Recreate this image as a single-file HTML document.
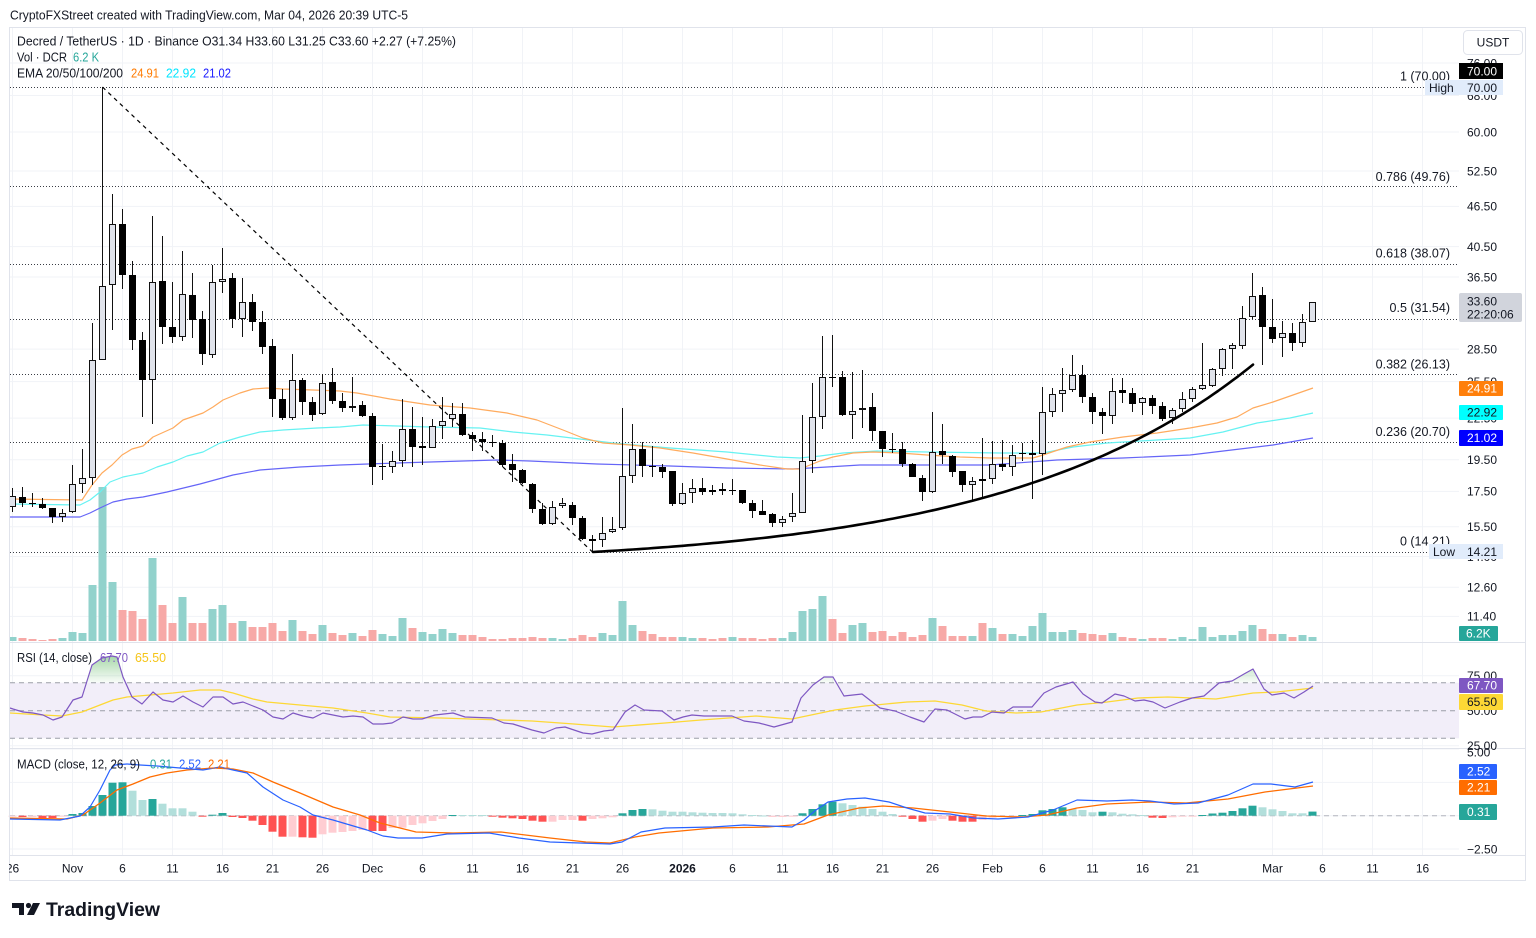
<!DOCTYPE html>
<html><head><meta charset="utf-8">
<style>
html,body{margin:0;padding:0;background:#fff;}
svg{display:block;font-family:"Liberation Sans",Arial,sans-serif;}
</style></head>
<body>
<svg id="s" width="1536" height="938" viewBox="0 0 1536 938" xmlns="http://www.w3.org/2000/svg">
<defs>
 <clipPath id="cp"><rect x="10" y="28" width="1449" height="614"/></clipPath>
 <clipPath id="crsi"><rect x="10" y="643" width="1449" height="39.7"/></clipPath>
 <clipPath id="ctime"><rect x="9" y="856" width="1517" height="24"/></clipPath>
 <linearGradient id="gg" gradientUnits="userSpaceOnUse" x1="0" y1="652" x2="0" y2="683"><stop offset="0" stop-color="#4caf50" stop-opacity="0.55"/><stop offset="1" stop-color="#4caf50" stop-opacity="0.03"/></linearGradient>
</defs>
<rect width="1536" height="938" fill="#fff"/>
<g id="grid"></g>
<!-- RSI band -->
<rect x="10" y="682.7" width="1449" height="55.6" fill="#f2eef9"/>
<g stroke="#9b9ea8" stroke-width="1" stroke-dasharray="5 4">
 <line x1="10" y1="682.7" x2="1459" y2="682.7"/>
 <line x1="10" y1="710.7" x2="1459" y2="710.7"/>
 <line x1="10" y1="738.3" x2="1459" y2="738.3"/>
 <line x1="10" y1="815.7" x2="1459" y2="815.7" stroke="#b2b5be"/>
</g>
<!-- Fib lines -->
<g stroke="#3a3d45" stroke-width="1" stroke-dasharray="1 2">
 <line x1="10" y1="87.5" x2="1459" y2="87.5"/>
 <line x1="10" y1="186.5" x2="1459" y2="186.5"/>
 <line x1="10" y1="264.5" x2="1459" y2="264.5"/>
 <line x1="10" y1="319.5" x2="1459" y2="319.5"/>
 <line x1="10" y1="374.5" x2="1459" y2="374.5"/>
 <line x1="10" y1="442.5" x2="1459" y2="442.5"/>
 <line x1="10" y1="552.5" x2="1459" y2="552.5"/>
</g>
<g id="vol" clip-path="url(#cp)"></g>
<g id="ema" clip-path="url(#cp)" fill="none"></g>
<line x1="102.5" y1="87" x2="592.5" y2="552" stroke="#000" stroke-width="1.2" stroke-dasharray="4 4"/>
<g id="cdl"></g>
<g id="curve"></g>
<g id="rsi" fill="none"></g>
<g id="hist"></g>
<g id="macd" fill="none"></g>

<!-- frame -->
<g stroke="#e0e3eb" stroke-width="1" fill="none">
 <rect x="9.5" y="27.5" width="1516" height="853"/>
 <line x1="9.5" y1="642.5" x2="1525.5" y2="642.5"/>
 <line x1="9.5" y1="748.5" x2="1525.5" y2="748.5"/>
 <line x1="9.5" y1="855.5" x2="1525.5" y2="855.5"/>
</g>

<!-- header & legends -->
<g fill="#131722">
 <text x="10" y="19.5" font-size="13" textLength="398" lengthAdjust="spacingAndGlyphs">CryptoFXStreet created with TradingView.com, Mar 04, 2026 20:39 UTC-5</text>
 <text x="17" y="45.5" font-size="13" textLength="439" lengthAdjust="spacingAndGlyphs">Decred / TetherUS · 1D · Binance  O31.34  H33.60  L31.25  C33.60  +2.27 (+7.25%)</text>
 <text x="17" y="61.3" font-size="13" textLength="50" lengthAdjust="spacingAndGlyphs">Vol · DCR</text>
 <text x="73" y="61.3" font-size="13" fill="#26a69a" textLength="26" lengthAdjust="spacingAndGlyphs">6.2 K</text>
 <text x="17" y="77.3" font-size="13" textLength="106" lengthAdjust="spacingAndGlyphs">EMA 20/50/100/200</text>
 <text x="131" y="77.3" font-size="13" fill="#ff7b00" textLength="28" lengthAdjust="spacingAndGlyphs">24.91</text>
 <text x="166" y="77.3" font-size="13" fill="#00e5ff" textLength="30" lengthAdjust="spacingAndGlyphs">22.92</text>
 <text x="203" y="77.3" font-size="13" fill="#1a1aff" textLength="28" lengthAdjust="spacingAndGlyphs">21.02</text>
 <text x="17" y="661.8" font-size="13" textLength="75" lengthAdjust="spacingAndGlyphs">RSI (14, close)</text>
 <text x="100" y="661.8" font-size="13" fill="#7e57c2" textLength="28" lengthAdjust="spacingAndGlyphs">67.70</text>
 <text x="135" y="661.8" font-size="13" fill="#f5c518" textLength="31" lengthAdjust="spacingAndGlyphs">65.50</text>
 <text x="17" y="768.5" font-size="13" textLength="123" lengthAdjust="spacingAndGlyphs">MACD (close, 12, 26, 9)</text>
 <text x="150" y="768.5" font-size="13" fill="#26a69a" textLength="22" lengthAdjust="spacingAndGlyphs">0.31</text>
 <text x="179" y="768.5" font-size="13" fill="#2962ff" textLength="22" lengthAdjust="spacingAndGlyphs">2.52</text>
 <text x="208" y="768.5" font-size="13" fill="#ff6d00" textLength="22" lengthAdjust="spacingAndGlyphs">2.21</text>
</g>

<!-- fib labels -->
<g fill="#131722" font-size="12.5" text-anchor="end">
 <text x="1450" y="80.5">1 (70.00)</text>
 <text x="1450" y="181">0.786 (49.76)</text>
 <text x="1450" y="257.5">0.618 (38.07)</text>
 <text x="1450" y="312">0.5 (31.54)</text>
 <text x="1450" y="368.5">0.382 (26.13)</text>
 <text x="1450" y="436">0.236 (20.70)</text>
 <text x="1450" y="545.5">0 (14.21)</text>
</g>

<!-- price axis -->
<g fill="#131722" font-size="12">
 <text x="1467" y="67.3">76.00</text>
 <text x="1467" y="99.8">68.00</text>
 <text x="1467" y="136.3">60.00</text>
 <text x="1467" y="175.3">52.50</text>
 <text x="1467" y="210.7">46.50</text>
 <text x="1467" y="250.9">40.50</text>
 <text x="1467" y="281.3">36.50</text>
 <text x="1467" y="353.4">28.50</text>
 <text x="1467" y="385.9">25.50</text>
 <text x="1467" y="422.4">22.50</text>
 <text x="1467" y="464.1">19.50</text>
 <text x="1467" y="495.7">17.50</text>
 <text x="1467" y="531.1">15.50</text>
 <text x="1467" y="560.8">14.00</text>
 <text x="1467" y="591.5">12.60</text>
 <text x="1467" y="620.7">11.40</text>
 <text x="1467" y="680">75.00</text>
 <text x="1467" y="715">50.00</text>
 <text x="1467" y="750">25.00</text>
 <text x="1467" y="756.3">5.00</text>
 <text x="1467" y="853.3">−2.50</text>
</g>
<rect x="1463.5" y="30.5" width="59" height="24" rx="4" fill="#fff" stroke="#e0e3eb"/>
<text x="1493" y="46.5" font-size="12" fill="#131722" text-anchor="middle">USDT</text>

<!-- boxes -->
<rect x="1459" y="63" width="44" height="16" fill="#000"/>
<text x="1467" y="75.3" font-size="12" fill="#fff">70.00</text>
<rect x="1425" y="80" width="78" height="15" fill="#e1ecfb"/>
<text x="1429" y="92" font-size="12" fill="#131722">High</text>
<text x="1467" y="92" font-size="12" fill="#131722">70.00</text>
<rect x="1459" y="293" width="63" height="29" rx="2" fill="#d1d4dc"/>
<text x="1467" y="305.5" font-size="12" fill="#131722">33.60</text>
<text x="1467" y="318.5" font-size="12" fill="#131722">22:20:06</text>
<rect x="1459" y="381" width="44" height="15" rx="1" fill="#ff7f0a"/>
<text x="1467" y="392.5" font-size="12" fill="#fff">24.91</text>
<rect x="1459" y="405" width="44" height="15" rx="1" fill="#00ffff"/>
<text x="1467" y="416.5" font-size="12" fill="#131722">22.92</text>
<rect x="1459" y="430" width="44" height="16" rx="1" fill="#0000ff"/>
<text x="1467" y="442" font-size="12" fill="#fff">21.02</text>
<rect x="1429" y="544" width="74" height="15" fill="#e1ecfb"/>
<text x="1433" y="556" font-size="12" fill="#131722">Low</text>
<text x="1467" y="556" font-size="12" fill="#131722">14.21</text>
<rect x="1459" y="626" width="39" height="15" rx="1" fill="#26a69a"/>
<text x="1466" y="637.5" font-size="12" fill="#fff">6.2K</text>
<rect x="1459" y="678" width="44" height="15" rx="1" fill="#7e57c2"/>
<text x="1467" y="689.5" font-size="12" fill="#fff">67.70</text>
<rect x="1459" y="694" width="44" height="16" rx="1" fill="#fdd835"/>
<text x="1467" y="706" font-size="12" fill="#131722">65.50</text>
<rect x="1459" y="764" width="38" height="15" rx="1" fill="#2962ff"/>
<text x="1467" y="775.5" font-size="12" fill="#fff">2.52</text>
<rect x="1459" y="780" width="38" height="15" rx="1" fill="#ff6d00"/>
<text x="1467" y="791.5" font-size="12" fill="#fff">2.21</text>
<rect x="1459" y="804" width="38" height="16" rx="1" fill="#26a69a"/>
<text x="1467" y="816" font-size="12" fill="#fff">0.31</text>

<!-- time axis -->
<g fill="#131722" font-size="12" text-anchor="middle" clip-path="url(#ctime)">
 <text x="12.5" y="872.5">26</text>
 <text x="72.5" y="872.5">Nov</text>
 <text x="122.5" y="872.5">6</text>
 <text x="172.5" y="872.5">11</text>
 <text x="222.5" y="872.5">16</text>
 <text x="272.5" y="872.5">21</text>
 <text x="322.5" y="872.5">26</text>
 <text x="372.5" y="872.5">Dec</text>
 <text x="422.5" y="872.5">6</text>
 <text x="472.5" y="872.5">11</text>
 <text x="522.5" y="872.5">16</text>
 <text x="572.5" y="872.5">21</text>
 <text x="622.5" y="872.5">26</text>
 <text x="682.5" y="872.5" font-weight="bold">2026</text>
 <text x="732.5" y="872.5">6</text>
 <text x="782.5" y="872.5">11</text>
 <text x="832.5" y="872.5">16</text>
 <text x="882.5" y="872.5">21</text>
 <text x="932.5" y="872.5">26</text>
 <text x="992.5" y="872.5">Feb</text>
 <text x="1042.5" y="872.5">6</text>
 <text x="1092.5" y="872.5">11</text>
 <text x="1142.5" y="872.5">16</text>
 <text x="1192.5" y="872.5">21</text>
 <text x="1272.5" y="872.5">Mar</text>
 <text x="1322.5" y="872.5">6</text>
 <text x="1372.5" y="872.5">11</text>
 <text x="1422.5" y="872.5">16</text>
</g>

<!-- logo -->
<path d="M12,903 H24 V915 H19 V908 H12 Z" fill="#131722"/>
<circle cx="28.5" cy="905.5" r="2.6" fill="#131722"/>
<polygon points="33,903 40,903 34,915 27,915" fill="#131722"/>
<text x="46" y="916" font-size="19" font-weight="bold" fill="#131722" textLength="114" lengthAdjust="spacingAndGlyphs">TradingView</text>
</svg>

<script>
(function(){
const NS="http://www.w3.org/2000/svg";
function el(g,tag,a){const e=document.createElementNS(NS,tag);for(const k in a)e.setAttribute(k,a[k]);document.getElementById(g).appendChild(e);return e;}
const X=i=>12.5+10*i;
function pts(a){return a.map(p=>p[0]+","+p[1]).join(" ");}

// grid
const gx=[0,6,11,16,21,26,31,36,41,46,51,56,61,67,72,77,82,87,92,98,103,108,113,118,126,131,136,141];
gx.forEach(i=>el("grid","line",{x1:X(i),y1:28,x2:X(i),y2:855,stroke:"#f1f3f7","stroke-width":1}));
[63,95.5,132,171,206.4,246.6,277,349.1,381.6,418.1,459.8,491.4,526.8,556.5,587.2,616.4,675.7,710.7,745.7,749,782.4,815.7,849].forEach(y=>{
 el("grid","line",{x1:10,y1:y,x2:1459,y2:y,stroke:"#f1f3f7","stroke-width":1});
});

const C=[
[496,507,488,512,1],[497,503,487,507,0],[503,504,493,507,0],[504,508,498,509,0],[508,517,508,523,0],[513,517,509,522,1],[484,512,465,513,1],[478,484,449,493,1],[360,478,323,485,1],[286,360,87,360,1],
[224,285,194,330,1],[224,275,209,289,0],[275,340,261,350,0],[340,380,332,417,0],[282,380,216,424,1],[281,327,236,344,0],[327,337,282,343,0],[294,337,251,341,1],[295,320,273,338,0],[319,354,311,365,0],
[282,355,265,358,1],[279,282,248,293,1],[278,319,273,328,0],[302,319,278,337,1],[302,322,294,331,0],[322,347,311,354,0],[346,399,339,417,0],[399,418,389,420,0],[380,418,354,420,1],[380,402,378,415,0],
[402,415,397,421,0],[383,414,374,415,1],[382,401,368,404,0],[401,408,393,412,0],[406,408,377,412,1],[405,416,401,417,0],[416,467,413,485,0],[466,467,444,480,0],[461,467,451,473,1],[429,461,399,467,1],
[429,447,407,467,0],[446,448,417,465,0],[426,448,419,448,1],[421,426,397,439,1],[414,419,403,427,1],[414,435,403,436,0],[435,439,432,451,0],[439,442,432,451,0],[442,443,435,447,0],[443,465,440,467,0],
[464,470,454,482,0],[470,483,469,484,0],[484,509,483,513,0],[509,524,503,525,0],[507,524,501,525,1],[503,506,498,508,1],[505,518,502,525,0],[518,539,516,540,0],[539,541,535,552,0],[533,540,517,547,1],
[529,532,517,533,1],[476,528,408,530,1],[449,476,424,483,1],[449,466,442,477,0],[466,467,446,477,0],[467,472,464,478,0],[471,504,471,506,0],[493,504,483,505,1],[488,493,479,503,1],[488,492,478,495,0],
[490,492,485,495,0],[489,491,483,495,0],[490,491,479,495,0],[490,503,490,504,0],[503,511,500,518,0],[511,515,500,515,0],[514,523,513,527,0],[519,523,516,527,1],[513,517,493,522,1],[461,513,415,513,1],
[417,461,383,473,1],[377,417,336,429,1],[377,378,335,387,0],[377,415,371,416,0],[411,415,372,439,1],[408,410,370,428,1],[407,431,393,441,0],[431,449,431,457,0],[449,450,433,453,0],[449,464,442,467,0],
[464,477,463,477,0],[478,492,475,501,0],[452,492,412,493,1],[451,455,424,464,0],[456,472,455,477,0],[471,485,471,492,0],[481,485,477,500,1],[479,481,438,498,0],[464,479,441,484,1],[464,467,440,471,0],
[455,467,445,476,1],[453,454,443,461,0],[453,455,440,499,0],[412,454,387,475,1],[394,412,388,417,1],[390,394,368,412,1],[375,390,355,392,1],[375,397,365,403,0],[397,412,393,424,0],[412,416,408,434,0],
[391,416,378,424,1],[390,393,378,403,0],[393,404,388,412,0],[398,403,397,415,1],[398,406,395,414,0],[406,419,402,421,0],[410,418,408,424,1],[399,409,392,412,1],[389,399,387,402,1],[385,389,343,390,1],
[369,386,368,387,1],[349,369,348,376,1],[345,349,343,369,1],[318,346,306,349,1],[296,317,273,319,1],[295,327,287,365,0],[327,339,299,343,0],[333,338,321,357,1],[333,343,323,351,0],[322,343,314,347,1],
[302,322,302,322,1]];

const V=[637,638,639,640,639,638,632,633,585,487,
582,610,611,619,558,605,623,597,623,623,
609,605,623,621,627,627,623,631,620,631,
634,625,633,635,633,636,630,634,636,618,
628,632,634,629,633,635,635,637,639,639,
638,638,637,638,638,639,638,635,637,633,
635,601,625,631,634,637,637,637,638,638,
639,638,637,638,638,639,638,638,632,611,
609,596,619,633,625,623,632,631,636,632,
637,635,618,626,636,636,636,623,628,634,
634,636,626,613,632,632,630,633,634,635,
633,637,638,639,638,638,639,637,639,627,
637,635,635,631,625,629,634,634,637,635,637];
const greenOverride=[37,41,72,101,102];
V.forEach((v,i)=>{
 const up=C[i][4]===1||greenOverride.indexOf(i)>=0;
 el("vol","rect",{x:X(i)-4,y:v,width:8,height:Math.max(1,641-v),fill:up?"#92d2cc":"#f7a9a7"});
});

const E20=[[10,499],[82,500],[92,485],[102,473],[112,465],[122,455],[132,449],[143,446],[153,437],[173,428],[183,420],[203,413],[213,407],[223,400],[240,393],[253,389],[267,388],[283,389],[313,390],[340,391],[357,393],[390,399],[430,405],[470,408],[507,413],[537,420],[563,430],[583,438],[603,443],[630,445],[660,448],[693,453],[727,459],[760,465],[787,469],[800,469],[810,465],[820,461],[833,457],[853,453],[873,452],[900,453],[927,455],[960,457],[990,458],[1033,458],[1043,455],[1067,447],[1090,442],[1123,437],[1157,433],[1190,428],[1217,423],[1237,417],[1253,408],[1273,402],[1293,395],[1313,388]];
const E50=[[10,504],[80,505],[90,500],[100,492],[110,482],[123,477],[143,473],[157,467],[173,462],[187,456],[203,452],[220,443],[240,437],[260,432],[283,430],[317,428],[340,427],[363,425],[430,427],[480,428],[513,432],[547,435],[580,439],[613,443],[647,446],[670,448],[727,452],[777,457],[800,458],[820,456],[843,453],[877,451],[927,452],[1000,453],[1043,453],[1073,447],[1107,443],[1157,440],[1190,438],[1223,432],[1257,423],[1290,418],[1313,413]];
const E200=[[10,517],[80,517],[90,513],[100,508],[113,502],[127,499],[143,497],[167,492],[200,484],[233,475],[260,470],[300,467],[340,465],[397,463],[463,461],[497,460],[530,461],[597,464],[670,466],[727,468],[793,469],[827,467],[860,465],[927,465],[990,465],[1057,460],[1123,458],[1190,455],[1240,449],[1273,445],[1313,438]];
el("ema","polyline",{points:pts(E200),stroke:"#6565f7","stroke-width":1.2,"stroke-linejoin":"round"});
el("ema","polyline",{points:pts(E50),stroke:"#66f2f2","stroke-width":1.2,"stroke-linejoin":"round"});
el("ema","polyline",{points:pts(E20),stroke:"#ffab5e","stroke-width":1.2,"stroke-linejoin":"round"});

C.forEach((c,i)=>{
 const x=X(i);
 el("cdl","line",{x1:x,y1:c[2],x2:x,y2:c[3],stroke:"#111","stroke-width":1});
 const h=Math.max(1,c[1]-c[0]);
 if(c[4]===1){
  el("cdl","rect",{x:x-3,y:c[0]+0.5,width:6,height:Math.max(1,h-1),fill:"#e0e3eb",stroke:"#111","stroke-width":1});
 } else {
  el("cdl","rect",{x:x-3.5,y:c[0],width:7,height:h,fill:"#000"});
 }
});

// curve
let cp=[];
for(let x=593;x<=1253;x+=5){cp.push([x,(552-14.4*(Math.exp(0.004*(x-593))-1)).toFixed(1)]);}
el("curve","polyline",{points:pts(cp),fill:"none",stroke:"#000","stroke-width":2.6,"stroke-linecap":"round","stroke-linejoin":"round"});

// RSI
const R=[[10,708],[13,709],[23,712],[33,713],[43,715],[53,720],[62,717],[73,700],[82,697],[92,665],[102,658],[112,656],[117,657],[123,677],[132,697],[142,704],[153,692],[163,700],[173,702],[183,696],[193,702],[203,707],[213,697],[223,697],[233,704],[243,702],[253,706],[263,710],[273,717],[283,719],[293,713],[303,716],[313,718],[323,713],[333,715],[343,717],[353,716],[363,717],[373,724],[383,724],[392,723],[403,717],[413,719],[422,719],[435,715],[453,713],[465,717],[492,718],[504,723],[513,724],[532,730],[544,733],[556,728],[565,727],[583,733],[592,734],[604,731],[613,730],[625,712],[635,705],[644,710],[662,711],[674,720],[683,717],[692,715],[704,716],[732,716],[744,721],[759,723],[774,727],[792,722],[801,698],[813,685],[824,677],[833,677],[844,696],[862,694],[880,708],[895,711],[910,717],[924,722],[935,709],[947,710],[965,719],[973,717],[982,717],[992,712],[1004,713],[1013,707],[1032,707],[1044,693],[1056,687],[1073,682],[1083,694],[1095,702],[1102,703],[1115,694],[1124,696],[1135,701],[1144,700],[1153,702],[1165,708],[1180,702],[1192,698],[1204,696],[1219,683],[1232,681],[1244,674],[1253,669],[1264,689],[1272,695],[1284,693],[1294,698],[1304,692],[1313,686]];
const RM=[[10,713],[43,715],[62,716],[82,712],[100,705],[113,700],[127,697],[150,695],[173,693],[200,690],[220,690],[233,693],[253,699],[267,702],[300,705],[333,708],[367,713],[390,717],[441,718],[532,721],[574,724],[613,727],[665,723],[701,720],[756,716],[792,719],[835,710],[865,706],[907,702],[935,701],[962,705],[986,711],[1016,713],[1041,712],[1077,705],[1107,702],[1138,698],[1168,697],[1216,699],[1253,693],[1277,692],[1313,688]];
const fillPts=R.concat([[1313,682.7],[10,682.7]]);
const fp=el("rsi","polygon",{points:pts(fillPts),fill:"url(#gg)",stroke:"none"});
fp.setAttribute("clip-path","url(#crsi)");
el("rsi","polyline",{points:pts(RM),stroke:"#fdd835","stroke-width":1.3,"stroke-linejoin":"round"});
el("rsi","polyline",{points:pts(R),stroke:"#7e57c2","stroke-width":1.2,"stroke-linejoin":"round"});

// MACD hist
const H=[[816.5,'P'],[817,'R'],[817,'P'],[818,'R'],[818,'R'],[816.5,'P'],[814,'D'],[813,'D'],[806,'D'],[795,'D'],
[782.7,'D'],[782.3,'D'],[790.7,'L'],[800,'L'],[799,'D'],[803.7,'L'],[808.3,'L'],[808.3,'L'],[811.7,'L'],[816.7,'R'],
[814.7,'D'],[813,'D'],[817,'R'],[818,'R'],[820.7,'R'],[825,'R'],[831.7,'R'],[836.7,'R'],[836.7,'P'],[837.3,'R'],
[837.7,'R'],[834.3,'P'],[832.7,'P'],[832,'P'],[831,'P'],[830,'P'],[831,'R'],[831,'R'],[828,'P'],[827.7,'P'],
[825,'P'],[823.3,'P'],[821,'P'],[819,'P'],[815,'D'],[815,'L'],[815,'L'],[815,'L'],[816.5,'R'],[817.7,'R'],
[818.3,'R'],[819,'R'],[820.7,'R'],[821.7,'R'],[821.7,'P'],[820,'P'],[820,'P'],[820.7,'R'],[819,'P'],[818.3,'P'],
[817.3,'P'],[813.3,'D'],[810,'D'],[809,'D'],[809.3,'L'],[810.7,'L'],[811.7,'L'],[811.7,'L'],[812.3,'L'],[812.7,'L'],
[813,'L'],[813,'L'],[813.3,'L'],[814.3,'L'],[815,'L'],[815.5,'L'],[817,'P'],[817,'P'],[816,'P'],[813.3,'D'],
[809,'D'],[804.3,'D'],[801.7,'D'],[803.3,'L'],[805,'L'],[806.7,'L'],[809,'L'],[811.7,'L'],[814,'L'],[816.7,'R'],
[819,'R'],[821.7,'R'],[820.7,'P'],[819,'P'],[820.7,'R'],[821.7,'R'],[821.7,'R'],[820,'P'],[817.7,'P'],[816.7,'P'],
[816,'P'],[815,'D'],[814,'D'],[810.3,'D'],[809,'D'],[807.3,'D'],[809,'L'],[810,'L'],[812.3,'L'],[811.7,'D'],
[812.3,'L'],[813.7,'L'],[814.3,'L'],[815,'L'],[817.7,'R'],[818,'R'],[817.3,'P'],[816.7,'P'],[816,'P'],[815,'D'],
[813.5,'D'],[812.7,'D'],[811,'D'],[808.3,'D'],[805.7,'D'],[807.3,'L'],[809.3,'L'],[811,'L'],[813.3,'L'],[813.3,'L'],
[811.6,'D']];
const col={D:"#26a69a",L:"#b2dfdb",R:"#ff5252",P:"#ffcdd2"};
const Z=815.7;
H.forEach((h,i)=>{
 const y0=Math.min(h[0],Z),y1=Math.max(h[0],Z);
 el("hist","rect",{x:X(i)-4,y:y0,width:8,height:Math.max(1,y1-y0),fill:col[h[1]]});
});
const MB=[[10,819],[60,820],[80,816],[90,807],[100,790],[110,770],[115,765],[127,764],[140,765],[157,766],[180,768],[203,770],[220,767],[233,770],[247,773],[263,787],[283,800],[300,807],[313,815],[333,820],[350,825],[367,830],[383,836],[398,838],[422,838],[447,834],[489,833],[519,838],[550,842],[580,843],[610,844],[622,842],[641,832],[665,828],[713,827],[744,825],[792,827],[804,820],[816,810],[828,802],[847,799],[865,798],[889,802],[907,808],[925,813],[950,814],[974,818],[998,819],[1028,817],[1053,810],[1077,800],[1107,801],[1132,800],[1150,801],[1174,804],[1198,803],[1228,795],[1253,784],[1271,784],[1295,787],[1313,782]];
const MO=[[10,818],[67,819],[83,815],[100,803],[117,790],[133,784],[150,777],[167,773],[187,770],[213,768],[233,769],[253,773],[273,782],[300,793],[333,807],[360,815],[380,823],[400,828],[416,832],[453,833],[501,832],[550,838],[586,842],[610,843],[635,837],[659,833],[713,828],[768,827],[804,824],[828,815],[859,808],[883,806],[913,808],[950,812],[986,816],[1022,817],[1047,815],[1077,808],[1107,804],[1150,802],[1186,803],[1228,799],[1265,792],[1289,789],[1313,786]];
el("macd","polyline",{points:pts(MO),stroke:"#ff6d00","stroke-width":1.3,"stroke-linejoin":"round"});
el("macd","polyline",{points:pts(MB),stroke:"#2962ff","stroke-width":1.2,"stroke-linejoin":"round"});
})();
</script>
</body></html>
